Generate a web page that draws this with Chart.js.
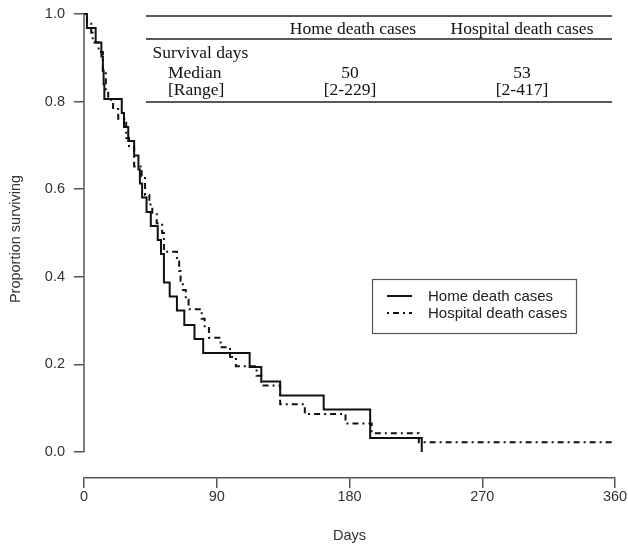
<!DOCTYPE html>
<html><head><meta charset="utf-8">
<script src="https://cdn.jsdelivr.net/npm/chart.js@4.4.1/dist/chart.umd.min.js"></script>
<style>html,body{margin:0;padding:0;background:#fff;overflow:hidden}canvas{display:block}</style>
</head><body>
<canvas id="c" width="628" height="544"></canvas>
<script>
// Kaplan-Meier step data (days, proportion surviving)
const homeDays = [0, 2, 7.9, 11.8, 12.8, 13.3, 13.8, 25.6, 27.1, 30, 34, 36.9, 37.9, 39.4, 42.4, 45.3, 50, 52.2, 54.2, 58.1, 63, 68, 74.9, 80.8, 112.3, 120.2, 133, 162.5, 194, 229];
const homeSurv = [1.000, 0.968, 0.935, 0.903, 0.871, 0.839, 0.806, 0.774, 0.742, 0.710, 0.677, 0.645, 0.613, 0.581, 0.548, 0.516, 0.484, 0.452, 0.387, 0.355, 0.323, 0.290, 0.258, 0.226, 0.194, 0.161, 0.129, 0.097, 0.032, 0.000];
const hospDays = [0, 2, 4.9, 5.9, 9.9, 12.8, 14.8, 16.4, 19.7, 23.2, 28.6, 30.5, 34, 39.1, 41.4, 44.3, 46.3, 49.3, 53, 54.2, 63, 64.5, 65.5, 67, 69, 70.9, 79.8, 81.8, 84.7, 92.6, 99, 103, 117, 120.2, 133, 149.7, 177.3, 195, 227, 417];
const hospSurv = [1.000, 0.978, 0.957, 0.935, 0.913, 0.870, 0.826, 0.804, 0.783, 0.761, 0.717, 0.696, 0.652, 0.630, 0.587, 0.565, 0.543, 0.522, 0.500, 0.457, 0.435, 0.413, 0.391, 0.370, 0.348, 0.326, 0.304, 0.283, 0.261, 0.239, 0.217, 0.196, 0.174, 0.152, 0.109, 0.087, 0.065, 0.043, 0.022, 0.000];

const seriesNames = ['Home death cases', 'Hospital death cases'];
const xTicks = [0, 90, 180, 270, 360];
const yTicks = [0, 0.2, 0.4, 0.6, 0.8, 1.0];
const xTitle = 'Days';
const yTitle = 'Proportion surviving';

// inset table text
const tableHeader = ['Home death cases', 'Hospital death cases'];
const tableRowLabels = ['Survival days', 'Median', '[Range]'];
const tableMedians = ['50', '53'];
const tableRanges = ['[2-229]', '[2-417]'];

const SANS = "'Liberation Sans', Arial, sans-serif";
const SANS_SIZE = 14.5;
const LEG_SIZE = 15;
const SERIF = "'Liberation Serif', 'Times New Roman', serif";
const AXIS = '#555';
const TEXT = '#333';
const hospDash = [2, 4, 6, 4];

const overlay = {
  id: 'overlay',
  afterDraw(chart) {
    const ctx = chart.ctx, ys = chart.scales.y, ca = chart.chartArea;
    ctx.save();
    // detached y axis line spanning first to last tick
    ctx.strokeStyle = AXIS; ctx.lineWidth = 1.5;
    ctx.beginPath();
    ctx.moveTo(ca.left, ys.getPixelForValue(yTicks[0]));
    ctx.lineTo(ca.left, ys.getPixelForValue(yTicks[yTicks.length - 1]));
    ctx.stroke();

    // inset table
    ctx.strokeStyle = '#222'; ctx.lineWidth = 1.6;
    [16, 39, 102].forEach(yy => { ctx.beginPath(); ctx.moveTo(146, yy); ctx.lineTo(612, yy); ctx.stroke(); });
    ctx.fillStyle = '#111';
    ctx.font = '17.5px ' + SERIF;
    ctx.textBaseline = 'middle';
    ctx.textAlign = 'center';
    ctx.fillText(tableHeader[0], 353, 29.5);
    ctx.fillText(tableHeader[1], 522, 29.5);
    ctx.fillText(tableMedians[0], 350, 73);
    ctx.fillText(tableMedians[1], 522, 73);
    ctx.fillText(tableRanges[0], 350, 90);
    ctx.fillText(tableRanges[1], 522, 90);
    ctx.textAlign = 'left';
    ctx.fillText(tableRowLabels[0], 152.5, 53);
    ctx.fillText(tableRowLabels[1], 168, 73);
    ctx.fillText(tableRowLabels[2], 168, 90);

    // legend box
    ctx.strokeStyle = AXIS; ctx.lineWidth = 1.2;
    ctx.strokeRect(372.5, 279.5, 204, 54);
    const ds = chart.data.datasets;
    const rows = [296, 313];
    ds.forEach((d, i) => {
      ctx.strokeStyle = d.borderColor; ctx.lineWidth = d.borderWidth;
      ctx.setLineDash(d.borderDash || []);
      ctx.beginPath(); ctx.moveTo(387, rows[i]); ctx.lineTo(412, rows[i]); ctx.stroke();
      ctx.setLineDash([]);
      ctx.fillStyle = '#222'; ctx.font = LEG_SIZE + 'px ' + SANS;
      ctx.textAlign = 'left'; ctx.textBaseline = 'middle';
      ctx.fillText(d.label, 428, rows[i] + 1);
    });
    ctx.restore();
  }
};

new Chart(document.getElementById('c'), {
  type: 'line',
  data: {
    datasets: [
      { label: seriesNames[0], data: homeDays.map((d, i) => ({x: d, y: homeSurv[i]})),
        borderColor: '#111', borderWidth: 2, stepped: 'before', pointRadius: 0, fill: false,
        clip: {left: 2, top: 4, right: 0, bottom: 2} },
      { label: seriesNames[1], data: hospDays.map((d, i) => ({x: d, y: hospSurv[i]})),
        borderColor: '#111', borderWidth: 2, borderDash: hospDash, stepped: 'before', pointRadius: 0, fill: false,
        clip: {left: 2, top: 4, right: 0, bottom: 2} }
    ]
  },
  options: {
    responsive: false, animation: false, devicePixelRatio: 1,
    layout: { padding: {top: 0, right: 13, bottom: 0, left: 0}, autoPadding: false },
    plugins: { legend: {display: false}, tooltip: {enabled: false} },
    scales: {
      x: {
        type: 'linear', min: 0, max: 360,
        afterBuildTicks: s => { s.ticks = xTicks.map(v => ({value: v})); },
        afterFit: s => { s.height = 66; s.paddingLeft = 0; s.paddingRight = 0; },
        grid: { drawOnChartArea: false, drawTicks: true, tickLength: 10, color: AXIS, lineWidth: 1.5 },
        border: { display: true, color: AXIS, width: 1.5 },
        ticks: { font: {family: SANS, size: SANS_SIZE}, color: TEXT, padding: 0, maxRotation: 0, autoSkip: false },
        title: { display: true, text: xTitle, font: {family: SANS, size: SANS_SIZE}, color: TEXT, padding: {top: 0, bottom: -1} }
      },
      y: {
        type: 'linear', min: -0.05936, max: 1.03196,
        afterBuildTicks: s => { s.ticks = yTicks.map(v => ({value: v})); },
        afterFit: s => { s.width = 84; s.paddingTop = 0; s.paddingBottom = 0; },
        grid: { drawOnChartArea: false, drawTicks: true, tickLength: 10, color: AXIS, lineWidth: 1.5 },
        border: { display: false },
        ticks: { font: {family: SANS, size: SANS_SIZE}, color: TEXT, padding: 9, callback: v => Number(v).toFixed(1) },
        title: { display: true, text: yTitle, font: {family: SANS, size: SANS_SIZE}, color: TEXT, padding: {top: 7.5, bottom: 0} }
      }
    }
  },
  plugins: [overlay]
});
</script>
</body></html>
